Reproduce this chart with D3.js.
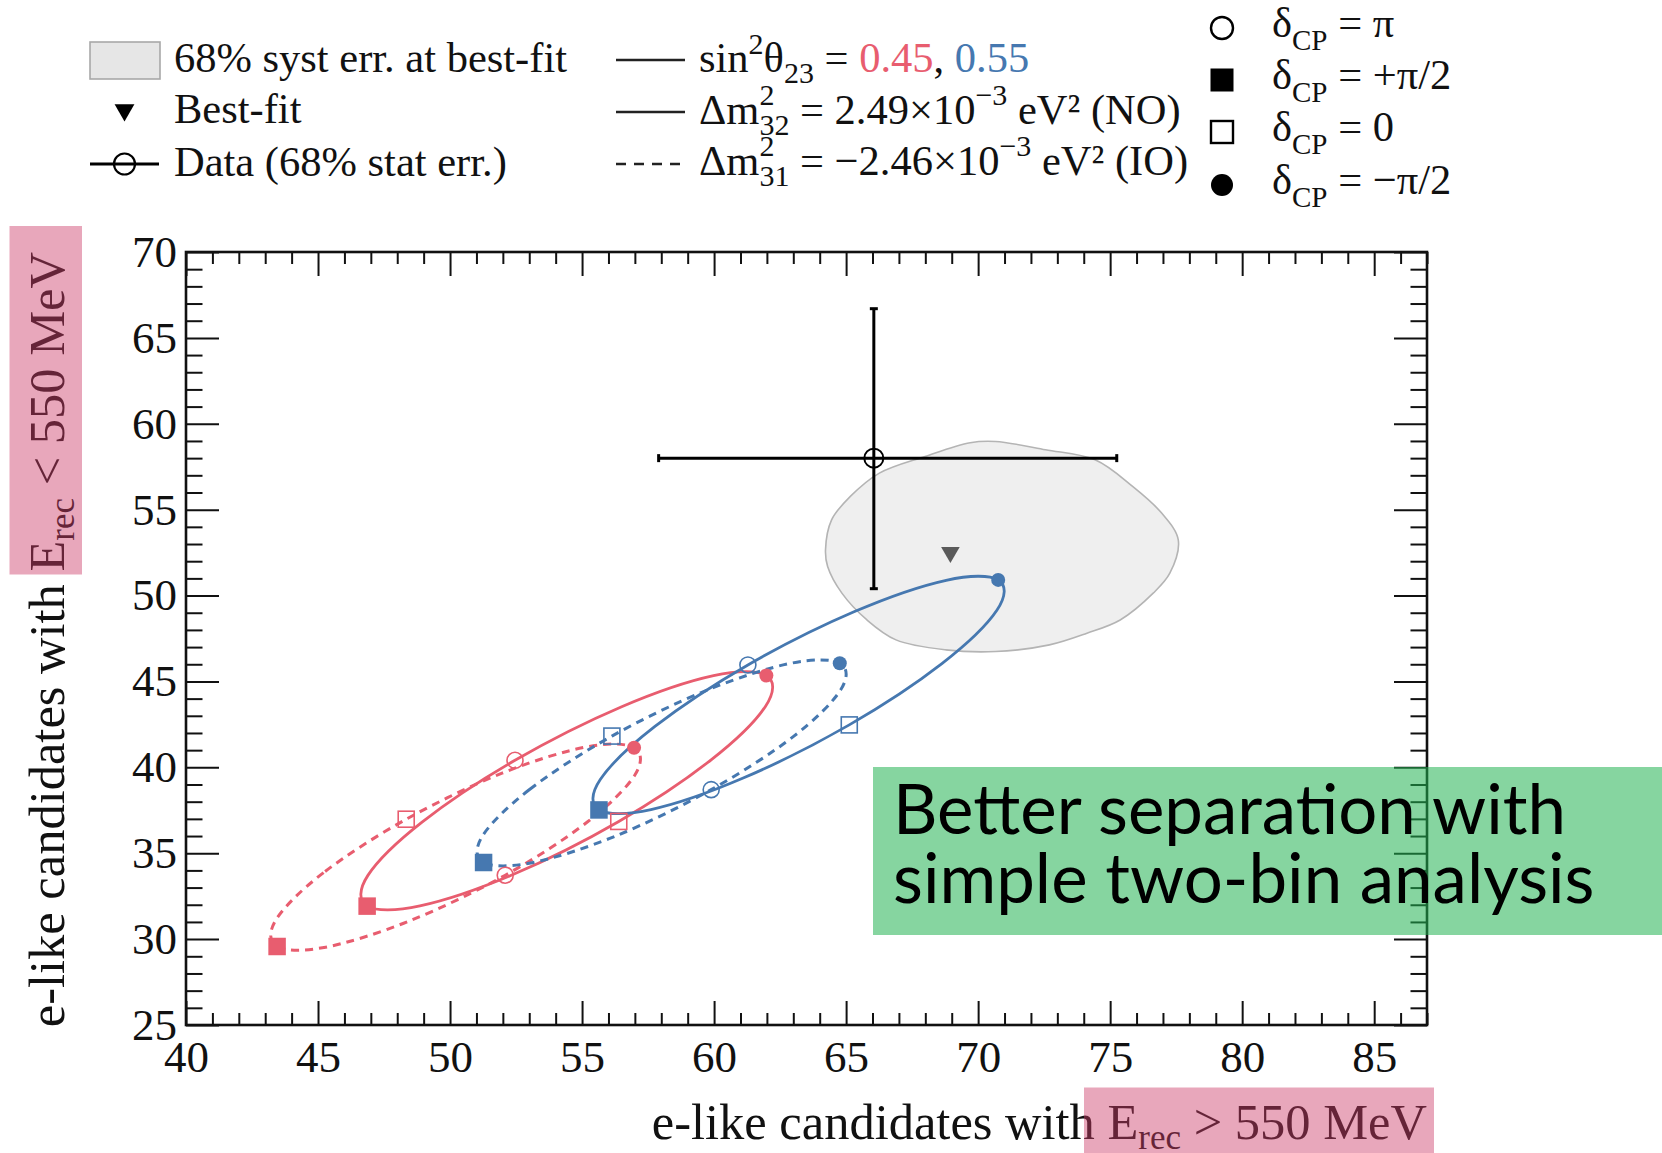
<!DOCTYPE html>
<html>
<head>
<meta charset="utf-8">
<script src="https://cdn.jsdelivr.net/npm/d3@7"></script>
<style>
  html, body { margin: 0; padding: 0; background: #fff; }
  svg { display: block; }
  text { white-space: pre; }
  .serif { font-family: "Liberation Serif", "Times New Roman", Times, serif; }
  .sans { font-family: Lato, "Open Sans", sans-serif; }
</style>
</head>
<body>
<svg id="chart" width="1662" height="1153"></svg>
<script>
// ---------------- data ----------------
const xDomain = [40, 87];
const yDomain = [25, 70];
const xTickLabels = [40, 45, 50, 55, 60, 65, 70, 75, 80, 85];
const yTickLabels = [25, 30, 35, 40, 45, 50, 55, 60, 65, 70];

// delta_CP sampled around each closed curve (degrees)
const deltaCP = [0, 30, 60, 90, 120, 150, 180, 210, 240, 270, 300, 330];

// expected (x = Erec > 550 MeV, y = Erec < 550 MeV) event counts along delta_CP
const sin045NO = [[56.39,36.85],[52.34,33.73],[48.86,31.93],[46.86,31.92],[46.89,33.71],[48.94,36.81],
                  [52.46,40.41],[56.50,43.53],[59.98,45.34],[61.98,45.35],[61.95,43.56],[59.90,40.45]];
const sin045IO = [[48.34,36.98],[45.21,33.87],[43.42,31.16],[43.45,29.57],[45.29,29.53],[48.45,31.05],
                  [52.09,33.72],[55.21,36.83],[57.00,39.55],[56.97,41.14],[55.13,41.18],[51.97,39.66]];
const sin055NO = [[65.12,42.47],[61.08,39.36],[57.61,37.54],[55.64,37.52],[55.69,39.29],[57.76,42.38],
                  [61.28,45.96],[65.32,49.07],[68.79,50.89],[70.76,50.91],[70.71,49.14],[68.64,46.05]];
const sin055IO = [[56.13,41.82],[53.01,38.71],[51.23,36.01],[51.27,34.46],[53.11,34.45],[56.27,36.00],
                  [59.89,38.70],[63.01,41.80],[64.79,44.50],[64.76,46.06],[62.91,46.06],[59.76,44.51]];

// highlighted delta_CP values and their marker type
const markedDelta = [0, 90, 180, 270];
const markedLabel = ["0", "+π/2", "π", "−π/2"];

// 68% systematic error contour around the best fit
const systContour = [[69.70,58.90],[70.66,58.97],[72.55,58.49],[74.43,57.90],[75.85,56.35],[76.95,54.80],
                     [77.58,53.24],[77.26,51.30],[76.63,50.14],[75.38,48.58],[74.12,47.81],[72.70,47.13],
                     [70.66,46.74],[68.77,46.84],[66.89,47.42],[65.79,48.58],[64.84,50.14],[64.30,51.69],
                     [64.22,52.66],[64.45,54.41],[65.16,55.77],[66.26,57.13],[67.99,58.10]];
const bestFit = [68.95, 52.4];
const dataPoint = [66.05, 58.0];
const dataErrX = [57.9, 75.25];
const dataErrY = [50.4, 66.7];

// ---------------- drawing ----------------
const RED = "#e85d6f", BLUE = "#4678b0";
const SERIF = '"Liberation Serif", "Times New Roman", Times, serif';
const svg = d3.select("#chart");
const L = 186, R = 1427, T = 252, B = 1025;
const x = d3.scaleLinear().domain(xDomain).range([L, R]);
const y = d3.scaleLinear().domain(yDomain).range([B, T]);

// systematic error region
svg.append("path")
  .attr("d", d3.line().x(d => x(d[0])).y(d => y(d[1])).curve(d3.curveCatmullRomClosed.alpha(0.5))(systContour))
  .attr("fill", "#efefef").attr("stroke", "#b4b4b4").attr("stroke-width", 1.6);

// best fit
svg.append("path")
  .attr("d", d3.symbol(d3.symbolTriangle, 150)())
  .attr("transform", `translate(${x(bestFit[0])},${y(bestFit[1]) - 2}) rotate(180)`)
  .attr("fill", "#5a5a5a");

// delta_CP curves
const curves = [
  { pts: sin045NO, color: RED, dash: null, w: 2.8 },
  { pts: sin045IO, color: RED, dash: "8,6", w: 3 },
  { pts: sin055IO, color: BLUE, dash: "8,6", w: 3 },
  { pts: sin055NO, color: BLUE, dash: null, w: 2.8 }
];
const curveLine = d3.line().x(d => x(d[0])).y(d => y(d[1])).curve(d3.curveCatmullRomClosed.alpha(0));
curves.forEach(c => {
  svg.append("path").attr("d", curveLine(c.pts))
    .attr("fill", "none").attr("stroke", c.color).attr("stroke-width", c.w)
    .attr("stroke-dasharray", c.dash);
});

function drawMarker(g, kind, cx, cy, color, s) {
  if (kind === "0") {
    g.append("rect").attr("x", cx - s.os / 2).attr("y", cy - s.os / 2).attr("width", s.os).attr("height", s.os)
      .attr("fill", "none").attr("stroke", color).attr("stroke-width", s.sw);
  } else if (kind === "+π/2") {
    g.append("rect").attr("x", cx - s.fs / 2).attr("y", cy - s.fs / 2).attr("width", s.fs).attr("height", s.fs)
      .attr("fill", color);
  } else if (kind === "π") {
    g.append("circle").attr("cx", cx).attr("cy", cy).attr("r", s.or)
      .attr("fill", "none").attr("stroke", color).attr("stroke-width", s.sw);
  } else {
    g.append("circle").attr("cx", cx).attr("cy", cy).attr("r", s.fr).attr("fill", color);
  }
}
const plotMarker = { os: 16, fs: 17.5, or: 8, fr: 7, sw: 1.6 };
curves.forEach(c => {
  markedDelta.forEach((d, i) => {
    const p = c.pts[deltaCP.indexOf(d)];
    drawMarker(svg, markedLabel[i], x(p[0]), y(p[1]), c.color, plotMarker);
  });
});

// data point with statistical errors
const dp = svg.append("g").attr("stroke", "#000").attr("stroke-width", 3).attr("fill", "none");
dp.append("line").attr("x1", x(dataErrX[0])).attr("x2", x(dataErrX[1])).attr("y1", y(dataPoint[1])).attr("y2", y(dataPoint[1]));
dp.append("line").attr("x1", x(dataPoint[0])).attr("x2", x(dataPoint[0])).attr("y1", y(dataErrY[0])).attr("y2", y(dataErrY[1]));
dataErrX.forEach(v => dp.append("line").attr("x1", x(v)).attr("x2", x(v)).attr("y1", y(dataPoint[1]) - 4).attr("y2", y(dataPoint[1]) + 4));
dataErrY.forEach(v => dp.append("line").attr("y1", y(v)).attr("y2", y(v)).attr("x1", x(dataPoint[0]) - 4).attr("x2", x(dataPoint[0]) + 4));
dp.append("circle").attr("cx", x(dataPoint[0])).attr("cy", y(dataPoint[1])).attr("r", 9.5).attr("stroke-width", 2);

// axes: ticks on all four sides, pointing inwards
function styleAxis(g) {
  g.attr("font-family", SERIF);
  g.select(".domain").remove();
  g.selectAll(".tick line").attr("stroke", "#111").attr("stroke-width", 2);
  g.selectAll(".tick text").style("font-family", SERIF).attr("font-size", 45).attr("fill", "#111");
}
const xMinor = x.ticks(47).filter(v => v % 5 !== 0);
const yMinor = y.ticks(45).filter(v => v % 5 !== 0);
svg.append("g").attr("transform", `translate(0,${B})`)
  .call(d3.axisBottom(x).tickValues(xTickLabels).tickSize(-24).tickPadding(15).tickFormat(d3.format("d"))).call(styleAxis);
svg.append("g").attr("transform", `translate(0,${B})`)
  .call(d3.axisBottom(x).tickValues(xMinor).tickSize(-12).tickFormat("")).call(styleAxis);
svg.append("g").attr("transform", `translate(0,${T})`)
  .call(d3.axisTop(x).tickValues(xTickLabels).tickSize(-24).tickFormat("")).call(styleAxis);
svg.append("g").attr("transform", `translate(0,${T})`)
  .call(d3.axisTop(x).tickValues(xMinor).tickSize(-12).tickFormat("")).call(styleAxis);
svg.append("g").attr("transform", `translate(${L},0)`)
  .call(d3.axisLeft(y).tickValues(yTickLabels).tickSize(-33).tickPadding(9).tickFormat(d3.format("d"))).call(styleAxis);
svg.append("g").attr("transform", `translate(${L},0)`)
  .call(d3.axisLeft(y).tickValues(yMinor).tickSize(-16.5).tickFormat("")).call(styleAxis);
svg.append("g").attr("transform", `translate(${R},0)`)
  .call(d3.axisRight(y).tickValues(yTickLabels).tickSize(-33).tickFormat("")).call(styleAxis);
svg.append("g").attr("transform", `translate(${R},0)`)
  .call(d3.axisRight(y).tickValues(yMinor).tickSize(-16.5).tickFormat("")).call(styleAxis);
svg.append("rect").attr("x", L).attr("y", T).attr("width", R - L).attr("height", B - T)
  .attr("fill", "none").attr("stroke", "#111").attr("stroke-width", 2.6);

// axis titles
const yTitle = svg.append("text").attr("class", "serif").attr("font-size", 50.5).attr("fill", "#111")
  .attr("text-anchor", "end").attr("transform", `translate(64,${T}) rotate(-90)`);
yTitle.append("tspan").text("e-like candidates with E");
yTitle.append("tspan").attr("font-size", 35).attr("dy", 10).text("rec");
yTitle.append("tspan").attr("dy", -10).text(" < 550 MeV");

const xTitle = svg.append("text").attr("class", "serif").attr("font-size", 50.5).attr("fill", "#111")
  .attr("text-anchor", "end").attr("x", R).attr("y", 1139);
xTitle.append("tspan").text("e-like candidates with E");
xTitle.append("tspan").attr("font-size", 35).attr("dy", 10).text("rec");
xTitle.append("tspan").attr("dy", -10).text(" > 550 MeV");

// highlight boxes over the energy cuts
svg.append("rect").attr("x", 9.5).attr("y", 226).attr("width", 72.5).attr("height", 348.5)
  .attr("fill", "rgb(204,59,104)").attr("fill-opacity", 0.45);
svg.append("rect").attr("x", 1084).attr("y", 1087.5).attr("width", 350).attr("height", 66)
  .attr("fill", "rgb(204,59,104)").attr("fill-opacity", 0.45);

// ---------------- legends ----------------
function rich(g, x0, y0, parts) {
  let cx = x0;
  parts.forEach(p => {
    const t = g.append("text").attr("class", "serif").attr("x", cx).attr("y", y0 + (p.dy || 0))
      .attr("font-size", p.size || 42.5).attr("fill", p.color || "#111").text(p.text);
    const w = t.node().getComputedTextLength();
    if (!p.stack) cx += w;
  });
}
const leg = svg.append("g");

// left block
leg.append("rect").attr("x", 90).attr("y", 42).attr("width", 70).attr("height", 37)
  .attr("fill", "#e6e6e6").attr("stroke", "#a8a8a8").attr("stroke-width", 1.6);
rich(leg, 174, 72, [{ text: "68% syst err. at best-fit" }]);
leg.append("path").attr("d", d3.symbol(d3.symbolTriangle, 170)())
  .attr("transform", "translate(124.5,110) rotate(180)").attr("fill", "#000");
rich(leg, 174, 123, [{ text: "Best-fit" }]);
leg.append("line").attr("x1", 90).attr("x2", 159).attr("y1", 164).attr("y2", 164)
  .attr("stroke", "#000").attr("stroke-width", 3.2);
leg.append("circle").attr("cx", 124.5).attr("cy", 164).attr("r", 10.5)
  .attr("fill", "none").attr("stroke", "#000").attr("stroke-width", 2.2);
rich(leg, 174, 176, [{ text: "Data (68% stat err.)" }]);

// middle block
[[60, null], [112, null], [164, "10,8"]].forEach(([ly, dash]) => {
  leg.append("line").attr("x1", 616).attr("x2", 685).attr("y1", ly).attr("y2", ly)
    .attr("stroke", "#222").attr("stroke-width", 2.4).attr("stroke-dasharray", dash);
});
rich(leg, 699, 72, [
  { text: "sin" }, { text: "2", size: 30, dy: -18 }, { text: "θ" }, { text: "23", size: 30, dy: 11 },
  { text: " = " }, { text: "0.45", color: RED }, { text: ", " }, { text: "0.55", color: BLUE }
]);
rich(leg, 699, 123.5, [
  { text: "Δm" }, { text: "2", size: 30, dy: -19, stack: true }, { text: "32", size: 30, dy: 11 },
  { text: " = 2.49×10" }, { text: "−3", size: 30, dy: -19 }, { text: " eV² (NO)" }
]);
rich(leg, 699, 175, [
  { text: "Δm" }, { text: "2", size: 30, dy: -19, stack: true }, { text: "31", size: 30, dy: 11 },
  { text: " = −2.46×10" }, { text: "−3", size: 30, dy: -19 }, { text: " eV² (IO)" }
]);

// right block: delta_CP markers
const legMarker = { os: 22, fs: 23, or: 11, fr: 11, sw: 2.4 };
const deltaRows = ["π", "+π/2", "0", "−π/2"];
const rowBase = [37, 89, 141, 194];
deltaRows.forEach((lab, i) => {
  drawMarker(leg, lab, 1222, rowBase[i] - 9, "#000", legMarker);
  rich(leg, 1272, rowBase[i], [{ text: "δ" }, { text: "CP", size: 29, dy: 13 }, { text: " = " + lab }]);
});

// ---------------- annotation ----------------
svg.append("rect").attr("x", 873).attr("y", 767).attr("width", 789).attr("height", 168)
  .attr("fill", "rgb(35,179,82)").attr("fill-opacity", 0.55);
const note = svg.append("text").attr("class", "sans").attr("font-size", 69).attr("fill", "#000");
note.append("tspan").attr("x", 893).attr("y", 834).text("Better separation with");
note.append("tspan").attr("x", 893).attr("y", 903).text("simple two-bin analysis");
</script>
</body>
</html>
